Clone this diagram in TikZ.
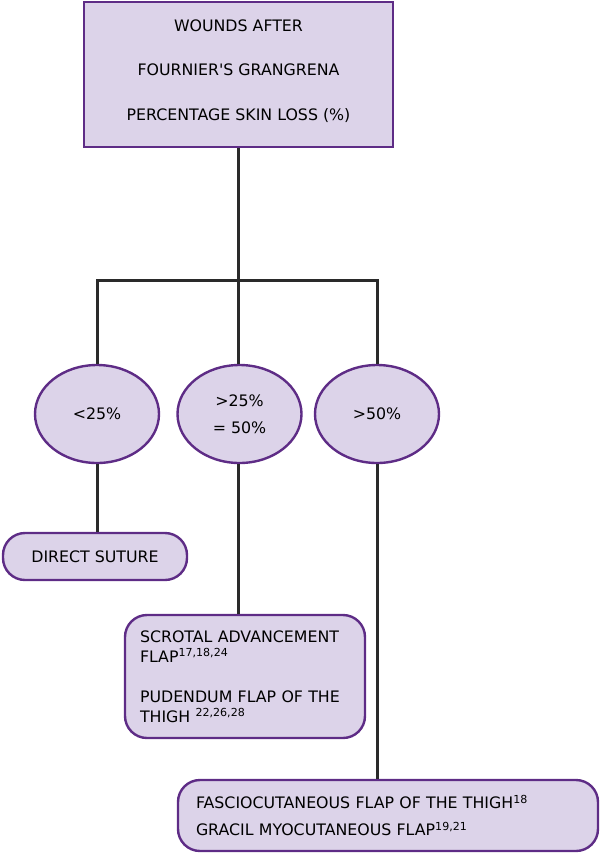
\documentclass[tikz,border=0pt]{standalone}
\usepackage{fontspec}
\setmainfont{DejaVu Sans}
\usepackage{xcolor}
\usepackage{tikz}
\usetikzlibrary{shapes.geometric,positioning,calc}
\definecolor{lavender}{HTML}{DCD3E9}
\definecolor{plum}{HTML}{5E2C86}
\definecolor{linkgray}{HTML}{2A2A2A}
\tikzset{
    box color/.style={fill=lavender,draw=plum,line width=2.4pt},
    head box/.style={box color,rectangle,minimum width=309pt,minimum height=145pt,align=center},
    skin loss/.style={box color,ellipse,minimum width=124pt,minimum height=98pt,inner sep=0pt,align=center},
    flap box/.style={box color,rectangle,rounded corners=22pt,align=left},
    link/.style={linkgray,line width=3pt},
}
\newcommand{\refs}[1]{\textsuperscript{#1}}
\tikzstyle{every node}=[font=\fontsize{15.8}{19.5}\selectfont]

\begin{document}
\begin{tikzpicture}[x=1pt,y=-1pt]
        \useasboundingbox (0,0) rectangle (600,855);
        \node[head box] (wounds) at (238.5,74.5) {WOUNDS AFTER\\[25pt]FOURNIER\textquotesingle S GRANGRENA\\[25pt]PERCENTAGE SKIN LOSS (\%)\\[-10pt]\mbox{}};
        \coordinate (split) at (238.5,280);
        \node[skin loss] (low) at (97,414) {<25\%};
        \node[skin loss] (mid) at (239.5,414) {>25\%\\[7pt]= 50\%};
        \node[skin loss] (high) at (377,414) {>50\%};
        \node[flap box,minimum width=184pt,minimum height=47pt] (suture) at (95,556.5) {DIRECT SUTURE};
        \node[flap box,minimum width=240pt,minimum height=123pt,text width=210pt] (scrotal) at (245,676.5)
            {SCROTAL ADVANCEMENT\\FLAP\refs{17,18,24}\\[21pt]PUDENDUM FLAP OF THE\\THIGH \refs{22,26,28}};
        \node[flap box,minimum width=420pt,minimum height=71pt,text width=384pt] (fascio) at (388,815.5)
            {FASCIOCUTANEOUS FLAP OF THE THIGH\refs{18}\\[8pt]GRACIL MYOCUTANEOUS FLAP\refs{19,21}};
        \draw[link] (wounds.south) -- (split);
        \draw[link] (low.north) |- (split) -| (high.north);
        \draw[link] (split) -- (split |- mid.north);
        \draw[link] (low.south) -- (low.south |- suture.north);
        \draw[link] (split |- mid.south) -- (split |- scrotal.north);
        \draw[link] (high.south) -- (high.south |- fascio.north);
    \end{tikzpicture}
\end{document}
